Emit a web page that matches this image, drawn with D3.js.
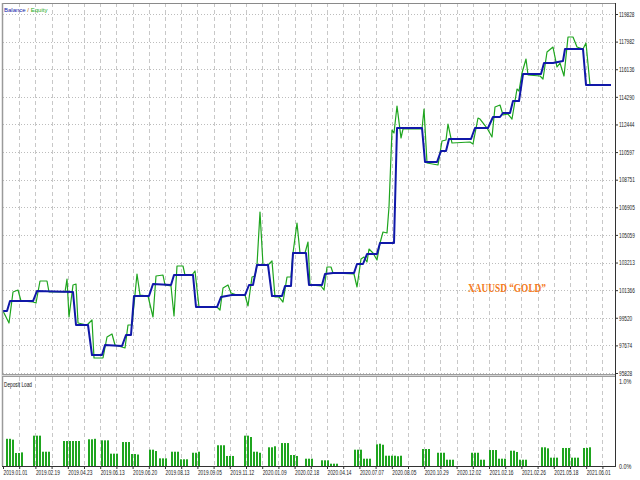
<!DOCTYPE html>
<html>
<head>
<meta charset="utf-8">
<script src="https://cdn.jsdelivr.net/npm/d3@7"></script>
<style>
    html, body { margin: 0; padding: 0; background: #fff; }
    svg { display: block; font-family: 'Liberation Sans', Arial, sans-serif; }
    .axis path { display: none; }
    .axis line { stroke: #333; }
    .axis text { fill: #222; font-size: 7px; }
</style>
</head>
<body>
<div id="chart"></div>
<script>
// Balance curve: deal number / account balance
const balanceDeals = [0, 4, 7, 30, 34, 70, 73, 85, 89, 99, 102, 119, 123, 128, 131, 146, 150, 168, 171, 190,
    193, 214, 218, 229, 242, 246, 250, 254, 265, 269, 279, 282, 288, 290, 303, 306, 319, 322, 330, 351,
    354, 360, 364, 374, 377, 391, 394, 419, 422, 434, 438, 443, 446, 468, 472, 485, 490, 497, 500, 507,
    510, 516, 520, 538, 541, 550, 560, 562, 580, 583, 608];
const balanceValues = [99973, 99973, 100641, 100641, 101310, 101243, 99037, 99037, 97031, 97031, 97700, 97633,
    98368, 98368, 100975, 100975, 101778, 101711, 102379, 102379, 100240, 100240, 100909, 101042, 101042,
    101711, 101711, 103048, 103048, 100975, 100975, 101644, 101644, 103850, 103850, 101711, 101711, 102446,
    102513, 102513, 103115, 103115, 103783, 103783, 104518, 104518, 112206, 112206, 109933, 109933, 110669,
    110669, 111471, 111471, 112206, 112206, 112942, 112942, 113209, 113209, 114011, 114011, 115816, 115816,
    116551, 116551, 116685, 117487, 117487, 115081, 115081];

// Equity curve: deal number / account equity
const equityDeals = [0, 6, 10, 15, 18, 30, 33, 37, 44, 46, 62, 64, 66, 70, 73, 75, 84, 89, 91, 100,
    104, 109, 112, 122, 125, 129, 134, 137, 145, 150, 153, 160, 162, 168, 171, 174, 180, 182, 189, 192,
    196, 214, 217, 220, 225, 228, 234, 242, 245, 249, 252, 254, 257, 260, 265, 269, 272, 276, 280, 284,
    288, 290, 294, 297, 302, 305, 307, 318, 321, 324, 328, 330, 351, 354, 358, 361, 364, 366, 370, 374,
    377, 380, 384, 386, 389, 391, 394, 398, 400, 419, 421, 424, 435, 439, 443, 445, 449, 467, 470, 475,
    477, 484, 489, 492, 497, 500, 505, 509, 514, 516, 519, 523, 525, 537, 540, 544, 550, 554, 557, 561,
    565, 570, 574, 580, 583, 587, 608];
const equityValues = [99973, 99170, 101243, 101376, 100641, 100574, 100507, 101978, 101978, 101243, 101243,
    102112, 99572, 101711, 101778, 99170, 99037, 99371, 96831, 96831, 98235, 98435, 97700, 97499, 99037,
    99037, 102446, 101042, 100975, 99572, 102312, 102379, 101711, 101644, 99638, 102981, 102981, 102379,
    102379, 102647, 100240, 100240, 100039, 101510, 101711, 101176, 101042, 101042, 100307, 102246, 102312,
    103048, 106591, 103048, 103048, 103315, 100909, 100909, 100574, 102246, 102246, 103850, 105855, 103850,
    103850, 104585, 101711, 101644, 101376, 102914, 102914, 102513, 102446, 101577, 103449, 103583, 103248,
    104117, 103850, 103382, 104518, 105254, 105187, 106925, 112072, 111872, 113677, 111538, 112139, 112139,
    113476, 109866, 109733, 111337, 111404, 112474, 111203, 111270, 111137, 112875, 112808, 112206, 111605,
    113610, 113744, 113075, 113142, 112808, 114813, 114680, 115883, 116819, 115749, 115682, 115482, 117287,
    117621, 116284, 116551, 115682, 118290, 118290, 117621, 117487, 117888, 115081, 115081];

// Deposit load bars: deal number / load in percent
const loadDeals = [3, 6, 9, 12, 15, 18, 30, 33, 36, 39, 42, 45, 60, 63, 66, 69, 72, 75, 85, 88, 91,
    98, 101, 104, 107, 110, 113, 119, 122, 125, 128, 131, 134, 146, 149, 152, 156, 159, 162,
    168, 171, 174, 177, 180, 183, 189, 192, 195, 214, 217, 220, 223, 226, 229,
    241, 244, 247, 250, 253, 256, 265, 268, 271, 278, 281, 284, 287, 290, 293, 302, 305, 308,
    318, 321, 324, 327, 330, 333, 351, 354, 357, 360, 363, 366,
    373, 376, 379, 382, 385, 388, 391, 394, 397, 419, 422, 425, 434, 437, 440, 443, 446, 449,
    468, 471, 474, 477, 480, 486, 489, 492, 495, 498, 501, 507, 510, 513, 516, 519, 522,
    538, 541, 544, 547, 550, 553, 559, 562, 565, 568, 571, 574, 580, 583, 586];
const loadValues = [0.32, 0.32, 0.31, 0.153, 0.153, 0.16, 0.357, 0.357, 0.357, 0.168, 0.168, 0.168,
    0.294, 0.294, 0.294, 0.294, 0.294, 0.294, 0.314, 0.314, 0.32,
    0.302, 0.302, 0.302, 0.145, 0.145, 0.145, 0.282, 0.282, 0.282, 0.141, 0.141, 0.135,
    0.192, 0.192, 0.176, 0.09, 0.09, 0.09, 0.168, 0.168, 0.168, 0.079, 0.079, 0.079, 0.156, 0.156, 0.168,
    0.244, 0.244, 0.244, 0.118, 0.118, 0.118, 0.357, 0.357, 0.341, 0.168, 0.168, 0.156,
    0.22, 0.22, 0.232, 0.27, 0.27, 0.27, 0.129, 0.129, 0.118, 0.086, 0.086, 0.086,
    0.067, 0.067, 0.067, 0.027, 0.027, 0.027, 0.192, 0.192, 0.192, 0.086, 0.086, 0.086,
    0.255, 0.262, 0.25, 0.121, 0.121, 0.121, 0.121, 0.115, 0.121, 0.2, 0.2, 0.2,
    0.156, 0.156, 0.156, 0.074, 0.074, 0.074, 0.156, 0.156, 0.156, 0.074, 0.074,
    0.188, 0.188, 0.188, 0.086, 0.086, 0.086, 0.18, 0.18, 0.165, 0.074, 0.074, 0.074,
    0.22, 0.22, 0.208, 0.098, 0.098, 0.098, 0.212, 0.212, 0.212, 0.098, 0.098, 0.098,
    0.212, 0.212, 0.22];

// Axis labels
const valueTicks = [95828, 97674, 99520, 101366, 103213, 105059, 106905, 108751, 110597, 112444,
    114290, 116136, 117982, 119828];
const loadTicks = [0, 1];
const dateLabels = ['2019.01.01', '2019.02.19', '2019.04.23', '2019.06.13', '2019.06.20', '2019.08.13',
    '2019.09.05', '2019.11.12', '2020.01.09', '2020.02.18', '2020.04.14', '2020.07.07', '2020.08.05',
    '2020.10.29', '2020.12.02', '2021.02.16', '2021.02.26', '2021.05.18', '2021.06.01'];
const totalDeals = 612;
const gridStep = 16.2;   // deals between vertical grid lines, labels on every second one

const width = 640, height = 480;
const left = 3, right = 615;
const mainTop = 3, mainBottom = 373;
const loadTop = 377, loadBottom = 466;

const svg = d3.select('#chart')
    .append('svg')
    .attr('width', width)
    .attr('height', height);

// Scales
const x = d3.scaleLinear().domain([0, totalDeals]).range([left, right]);
const y = d3.scaleLinear().domain([valueTicks[0], valueTicks[valueTicks.length - 1]]).range([373, 14]);
const yLoad = d3.scaleLinear().domain([0, 1]).range([loadBottom, 381]);

const gridTicks = d3.range(0, totalDeals, gridStep);

// Grid - horizontal dotted in the main panel
svg.append('g')
    .selectAll('line')
    .data(valueTicks)
    .join('line')
    .attr('x1', left)
    .attr('x2', right)
    .attr('y1', d => Math.round(y(d)) + 0.5)
    .attr('y2', d => Math.round(y(d)) + 0.5)
    .attr('stroke', '#bdbdbd')
    .attr('stroke-dasharray', '1,2');

// Grid - vertical dashed, both panels
[[mainTop, mainBottom], [loadTop, loadBottom]].forEach(([t, b]) => {
    svg.append('g')
        .selectAll('line')
        .data(gridTicks.slice(1))
        .join('line')
        .attr('x1', d => Math.round(x(d)) + 0.5)
        .attr('x2', d => Math.round(x(d)) + 0.5)
        .attr('y1', t)
        .attr('y2', b)
        .attr('stroke', '#c8c8c8')
        .attr('stroke-dasharray', '4,3');
});

// Curves
const line = d3.line()
    .x(d => x(d[0]))
    .y(d => y(d[1]));

svg.append('path')
    .datum(d3.zip(equityDeals, equityValues))
    .attr('fill', 'none')
    .attr('stroke', '#1ea51e')
    .attr('stroke-width', 1.2)
    .attr('stroke-linejoin', 'round')
    .attr('d', line);

svg.append('path')
    .datum(d3.zip(balanceDeals, balanceValues))
    .attr('fill', 'none')
    .attr('stroke', '#1018a8')
    .attr('stroke-width', 2)
    .attr('stroke-linejoin', 'round')
    .attr('d', line);

// Deposit load bars
svg.append('g')
    .selectAll('rect')
    .data(d3.zip(loadDeals, loadValues))
    .join('rect')
    .attr('x', d => x(d[0]))
    .attr('width', 2)
    .attr('y', d => yLoad(d[1]))
    .attr('height', d => yLoad(0) - yLoad(d[1]))
    .attr('fill', '#1fa51f');

// Frame
svg.append('line').attr('x1', left - 1).attr('x2', right).attr('y1', mainTop + 0.5).attr('y2', mainTop + 0.5)
    .attr('stroke', '#8a8a8a');
svg.append('line').attr('x1', left - 0.5).attr('x2', left - 0.5).attr('y1', mainTop).attr('y2', loadBottom)
    .attr('stroke', '#9a9a9a').attr('stroke-width', 1.5);
svg.append('rect').attr('x', left - 1).attr('y', 374).attr('width', right - left + 1).attr('height', 3)
    .attr('fill', '#9c9c9c');
svg.append('line').attr('x1', left - 1).attr('x2', right).attr('y1', 375.5).attr('y2', 375.5)
    .attr('stroke', '#d6d6d6');
svg.append('line').attr('x1', right + 0.5).attr('x2', right + 0.5).attr('y1', mainTop).attr('y2', loadBottom + 1)
    .attr('stroke', '#333');
svg.append('line').attr('x1', left - 1).attr('x2', right + 1).attr('y1', loadBottom + 0.5).attr('y2', loadBottom + 0.5)
    .attr('stroke', '#333');

// Axes - narrow right-side labels, squeezed horizontally
const squeeze = 0.68;

svg.append('g')
    .attr('class', 'axis')
    .attr('transform', `translate(${right + 1},0)`)
    .call(d3.axisRight(y).tickValues(valueTicks).tickSize(2).tickPadding(1).tickFormat(d => d))
    .selectAll('text')
    .attr('x', 3 / squeeze)
    .attr('transform', `scale(${squeeze},1)`);

svg.append('g')
    .attr('class', 'axis')
    .attr('transform', `translate(${right + 1},0)`)
    .call(d3.axisRight(yLoad).tickValues(loadTicks).tickSize(0).tickPadding(3)
        .tickFormat(d => d.toFixed(1) + '%'))
    .selectAll('text')
    .attr('x', 3 / 0.78)
    .attr('transform', 'scale(0.78,1)');

const xAxis = svg.append('g')
    .attr('class', 'axis')
    .attr('transform', `translate(0,${loadBottom + 1})`)
    .call(d3.axisBottom(x)
        .tickValues(gridTicks)
        .tickSize(2)
        .tickPadding(1)
        .tickFormat((d, i) => i % 2 === 0 ? dateLabels[i / 2] : ''));

xAxis.selectAll('text')
    .style('text-anchor', 'start')
    .filter(function() { return this.textContent !== ''; })
    .attr('textLength', 24)
    .attr('lengthAdjust', 'spacingAndGlyphs');

// Legend and titles
const legend = svg.append('text')
    .attr('x', 4)
    .attr('y', 12)
    .style('font-size', '6px');
legend.append('tspan').attr('fill', '#1018a8').text('Balance');
legend.append('tspan').attr('fill', '#b05a00').text(' / ');
legend.append('tspan').attr('fill', '#22aa22').text('Equity');

svg.append('text')
    .attr('x', 4)
    .attr('y', 387)
    .attr('fill', '#111')
    .style('font-size', '7px')
    .attr('textLength', 28)
    .attr('lengthAdjust', 'spacingAndGlyphs')
    .text('Deposit Load');

svg.append('text')
    .attr('x', 468)
    .attr('y', 292)
    .attr('fill', '#f47a20')
    .style('font-family', "'Liberation Serif', 'Times New Roman', serif")
    .style('font-weight', 'bold')
    .style('font-size', '12px')
    .attr('textLength', 78)
    .attr('lengthAdjust', 'spacingAndGlyphs')
    .text('XAUUSD \u201CGOLD\u201D');
</script>
</body>
</html>
